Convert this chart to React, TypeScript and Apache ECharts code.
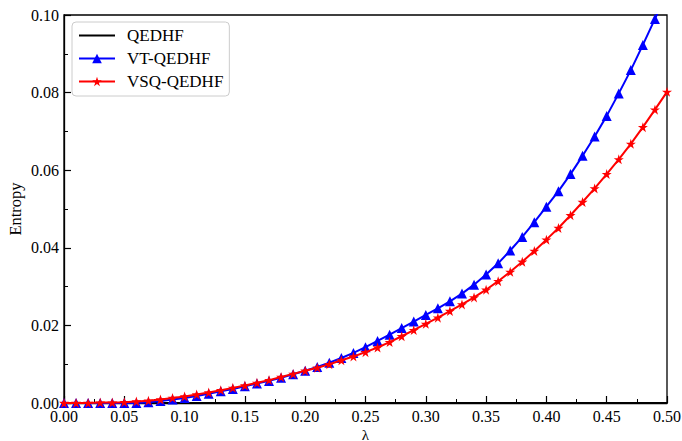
import React, { useEffect, useRef } from "react";
import * as echarts from "echarts";

const lambdas = [
  0.0, 0.01, 0.02, 0.03, 0.04, 0.05, 0.06, 0.07, 0.08, 0.09,
  0.1, 0.11, 0.12, 0.13, 0.14, 0.15, 0.16, 0.17, 0.18, 0.19,
  0.2, 0.21, 0.22, 0.23, 0.24, 0.25, 0.26, 0.27, 0.28, 0.29,
  0.3, 0.31, 0.32, 0.33, 0.34, 0.35, 0.36, 0.37, 0.38, 0.39,
  0.4, 0.41, 0.42, 0.43, 0.44, 0.45, 0.46, 0.47, 0.48, 0.49, 0.5,
];

const qedhf = [
  0, 0, 0, 0, 0, 0, 0, 0, 0, 0,
  0, 0, 0, 0, 0, 0, 0, 0, 0, 0,
  0, 0, 0, 0, 0, 0, 0, 0, 0, 0,
  0, 0, 0, 0, 0, 0, 0, 0, 0, 0,
  0, 0, 0, 0, 0, 0, 0, 0, 0, 0, 0,
];

const vtQedhf = [
  0, 0, 0, 0, 0, 0, 0.0, 0.0002, 0.0005, 0.0009,
  0.0013, 0.0018, 0.0024, 0.003, 0.0036, 0.0043, 0.005, 0.0057, 0.0065, 0.0074,
  0.0083, 0.0093, 0.0104, 0.0116, 0.0129, 0.0144, 0.016, 0.0176, 0.0193, 0.021,
  0.0227, 0.0244, 0.0262, 0.0282, 0.0305, 0.0331, 0.036, 0.0393, 0.0428, 0.0466,
  0.0506, 0.0546, 0.059, 0.0637, 0.0687, 0.074, 0.0798, 0.0858, 0.0923, 0.099, 0.1058,
];

const vsqQedhf = [
  0, 0.0, 0.0, 0.0001, 0.0001, 0.0002, 0.0004, 0.0006, 0.0009, 0.0013,
  0.0017, 0.0022, 0.0027, 0.0033, 0.0039, 0.0045, 0.0052, 0.0059, 0.0067, 0.0075,
  0.0083, 0.0091, 0.01, 0.011, 0.012, 0.0131, 0.0143, 0.0157, 0.0172, 0.0188,
  0.0204, 0.022, 0.0237, 0.0254, 0.0272, 0.0292, 0.0314, 0.0338, 0.0364, 0.0392,
  0.0421, 0.0451, 0.0484, 0.0518, 0.0553, 0.059, 0.0628, 0.0668, 0.0711, 0.0756, 0.0802,
];

const seriesNames = ["QEDHF", "VT-QEDHF", "VSQ-QEDHF"];
const seriesColors = ["#000000", "#0000ff", "#ff0000"];

const STAR =
  "path://M0,-1L0.2245,-0.309L0.951,-0.309L0.363,0.118L0.588,0.809L0,0.382L-0.588,0.809L-0.363,0.118L-0.951,-0.309L-0.2245,-0.309Z";
const LINE_ICON = "path://M0,0H36V2H0Z";

const FONT = "Liberation Serif";

function pairs(ys: number[]) {
  return lambdas.map((x, i) => [x, ys[i]]);
}

export default function App() {
  const ref = useRef<HTMLDivElement>(null);

  useEffect(() => {
    if (!ref.current) return;
    const chart = echarts.init(ref.current, undefined, { renderer: "svg" });
    const axisCommon = {
      type: "value" as const,
      nameLocation: "middle" as const,
      nameMoveOverlap: false,
      axisLine: { show: true, onZero: false, lineStyle: { color: "#000", width: 1.3 } },
      axisTick: { show: true, inside: true, length: 7, lineStyle: { color: "#000", width: 1.2 } },
      minorTick: { show: true, splitNumber: 2, length: 4, lineStyle: { color: "#000", width: 1 } },
      splitLine: { show: false },
      minorSplitLine: { show: false },
      axisLabel: {
        formatter: (v: number) => v.toFixed(2),
        margin: 5,
        fontSize: 16,
        color: "#000",
        fontFamily: FONT,
      },
    };
    chart.setOption({
      animation: false,
      backgroundColor: "#ffffff",
      textStyle: { fontFamily: FONT },
      grid: {
        left: 64,
        right: 15,
        top: 15,
        bottom: 38,
        show: true,
        borderColor: "#000",
        borderWidth: 1.3,
        backgroundColor: "transparent",
        outerBoundsMode: "none",
        containLabel: false,
      },
      xAxis: {
        ...axisCommon,
        min: 0,
        max: 0.5,
        interval: 0.05,
        name: "λ",
        nameGap: 25,
        nameTextStyle: { fontSize: 15, lineHeight: 13, color: "#000", fontFamily: FONT },
      },
      yAxis: {
        ...axisCommon,
        min: 0,
        max: 0.1,
        interval: 0.02,
        name: "Entropy",
        nameGap: 40,
        nameRotate: 90,
        nameTextStyle: { fontSize: 16.5, color: "#000", fontFamily: FONT },
      },
      legend: {
        orient: "vertical",
        left: 72,
        top: 22,
        backgroundColor: "#fff",
        borderColor: "#cccccc",
        borderWidth: 1,
        borderRadius: 4,
        padding: [5, 6, 6, 6],
        itemWidth: 36,
        itemHeight: 12,
        itemGap: 6,
        textStyle: { fontSize: 17, color: "#000", fontFamily: FONT, padding: [0, 0, 0, 7] },
        data: [
          { name: seriesNames[0], icon: LINE_ICON },
          { name: seriesNames[1] },
          { name: seriesNames[2] },
        ],
      },
      series: [
        {
          name: seriesNames[0],
          type: "line",
          data: pairs(qedhf),
          symbol: "none",
          lineStyle: { color: seriesColors[0], width: 2 },
          itemStyle: { color: seriesColors[0] },
          z: 1,
        },
        {
          name: seriesNames[1],
          type: "line",
          data: pairs(vtQedhf),
          symbol: "triangle",
          symbolSize: 10,
          showAllSymbol: true,
          lineStyle: { color: seriesColors[1], width: 2 },
          itemStyle: { color: seriesColors[1] },
          z: 2,
        },
        {
          name: seriesNames[2],
          type: "line",
          data: pairs(vsqQedhf),
          symbol: STAR,
          symbolSize: 10,
          showAllSymbol: true,
          lineStyle: { color: seriesColors[2], width: 2 },
          itemStyle: { color: seriesColors[2] },
          z: 3,
        },
      ],
    });
    return () => chart.dispose();
  }, []);

  return (
    <div
      ref={ref}
      style={{ position: "fixed", left: 0, top: 0, width: 682, height: 441, background: "#fff" }}
    />
  );
}
